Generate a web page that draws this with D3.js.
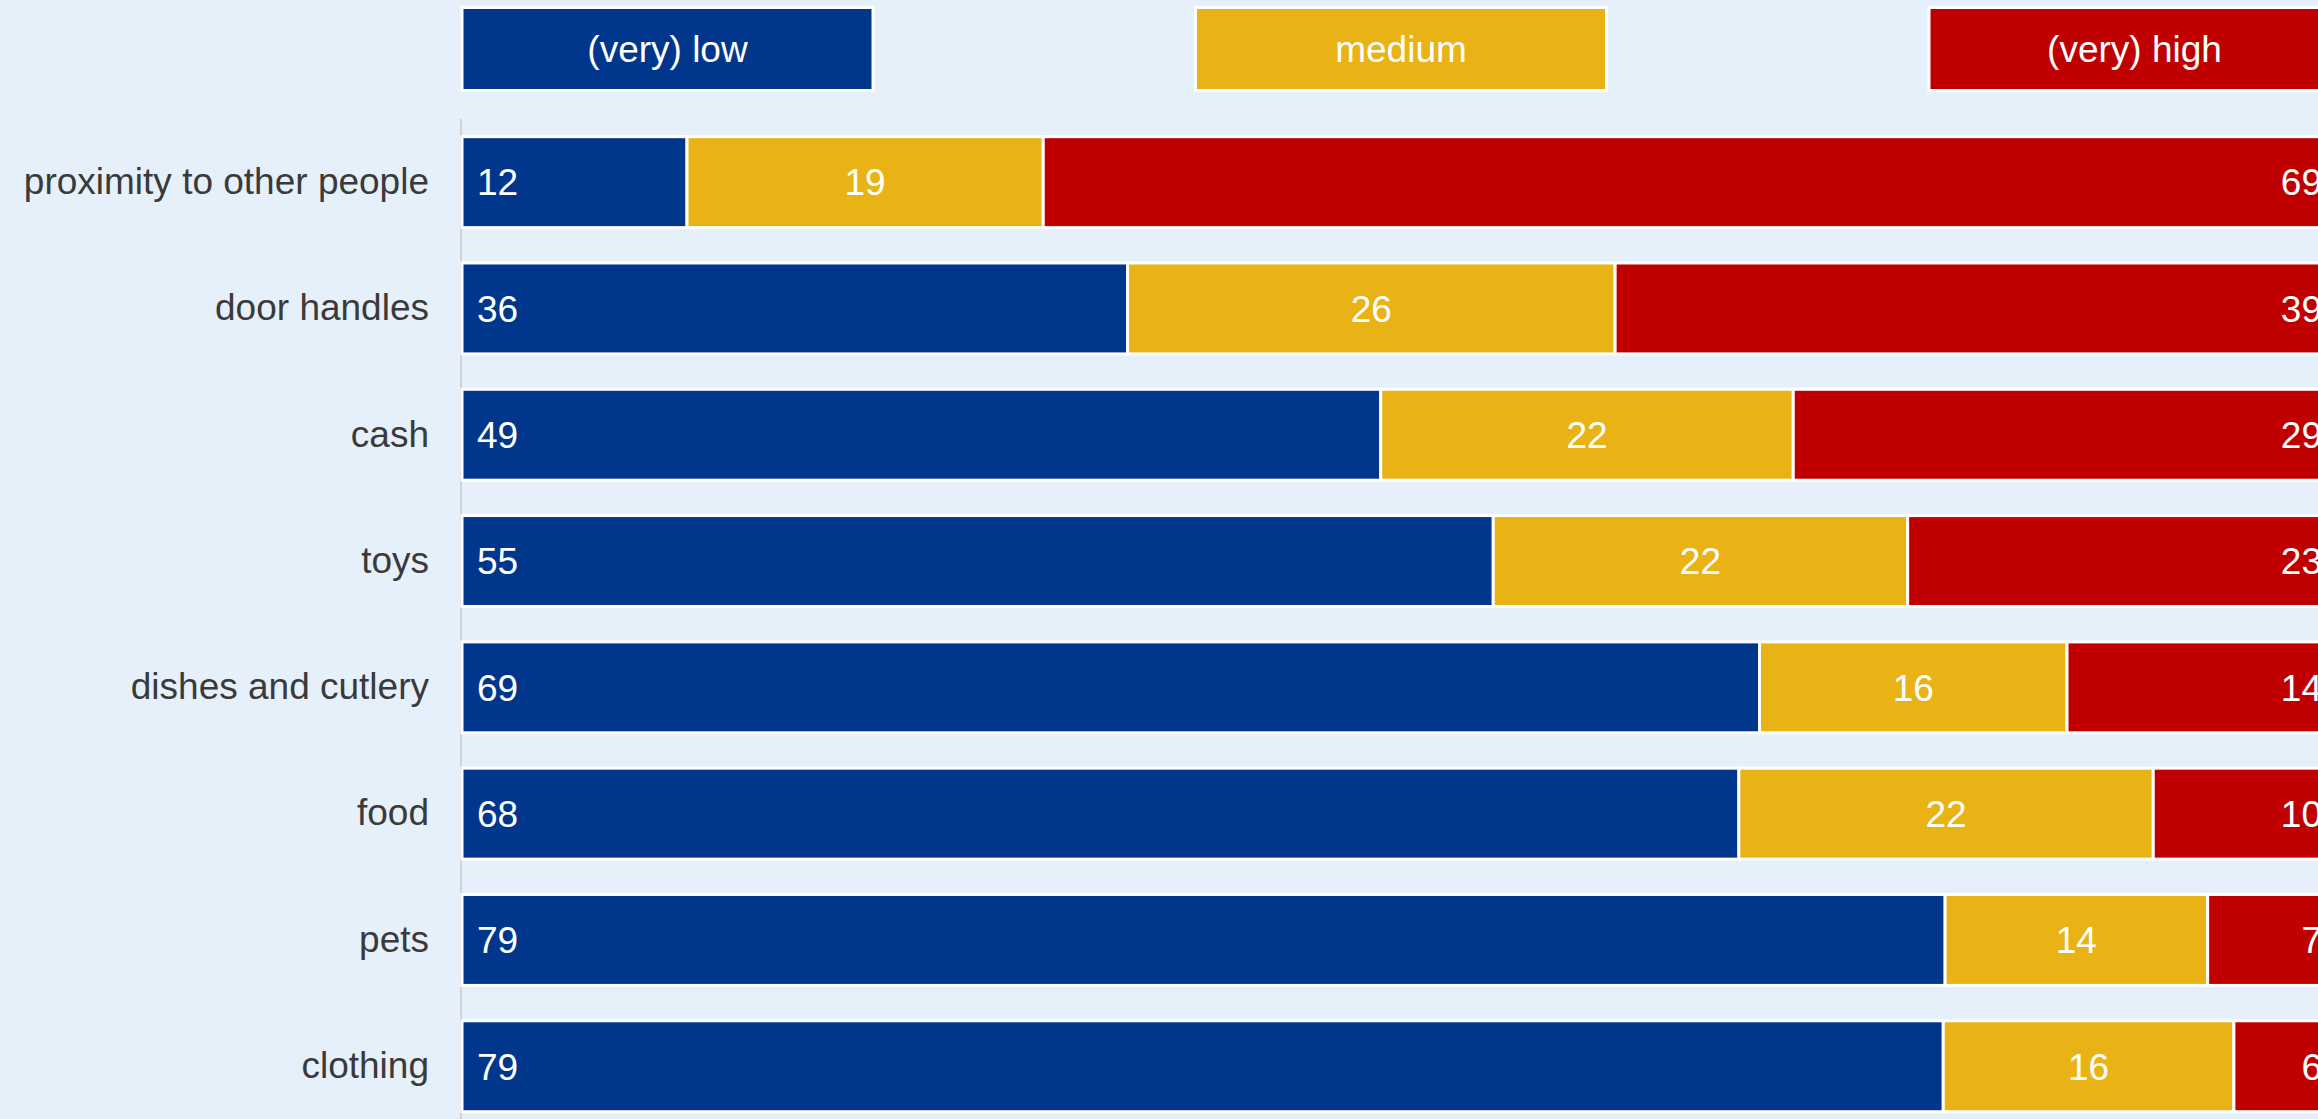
<!DOCTYPE html>
<html>
<head>
<meta charset="utf-8">
<script src="https://cdn.jsdelivr.net/npm/d3@7.9.0/dist/d3.min.js"></script>
<style>
  html, body { margin: 0; padding: 0; background: #e6f0fa; overflow: hidden; }
  svg { display: block; font-family: 'Liberation Sans', Arial, sans-serif; }
</style>
</head>
<body>
<svg id="chart"></svg>
<script>
// categories, top to bottom
const categories = [
  'proximity to other people',
  'door handles',
  'cash',
  'toys',
  'dishes and cutlery',
  'food',
  'pets',
  'clothing',
];

// shares in percent (labels show the rounded value)
const lowValues = [12.0, 35.5, 49.0, 55.0, 69.2, 68.1, 79.1, 79.0];
const mediumValues = [19.0, 26.0, 22.0, 22.1, 16.4, 22.1, 14.0, 15.5];
const highValues = [69.0, 38.5, 29.0, 22.9, 14.4, 9.8, 6.9, 5.5];

const seriesNames = ['(very) low', 'medium', '(very) high'];
const seriesColors = ['#00378c', '#eab315', '#c00000'];

const width = 2318;
const height = 1119;
const margin = { top: 119, left: 462 };

const svg = d3.select('#chart').attr('width', width).attr('height', height);

svg.append('rect')
  .attr('width', width)
  .attr('height', height)
  .attr('fill', '#e6f0fa');

const xScale = d3.scaleLinear().domain([0, 100]).range([margin.left, 2337]);

const yScale = d3.scaleBand()
  .domain(categories)
  .range([margin.top, margin.top + 126.3 * categories.length])
  .paddingInner(0.28)
  .paddingOuter(0.14);

// stack the three series
const rows = categories.map((c, i) => ({
  category: c,
  low: lowValues[i],
  medium: mediumValues[i],
  high: highValues[i],
}));
const stack = d3.stack().keys(['low', 'medium', 'high']);
const layers = stack(rows);

// thin axis line on the left
svg.append('line')
  .attr('x1', xScale(0) - 1)
  .attr('x2', xScale(0) - 1)
  .attr('y1', margin.top)
  .attr('y2', height)
  .attr('stroke', '#cfd3d8')
  .attr('stroke-width', 2);

// category labels
const yAxis = d3.axisLeft(yScale).tickSize(0).tickPadding(33);
svg.append('g')
  .attr('class', 'y axis')
  .attr('transform', `translate(${xScale(0)}, 0)`)
  .call(yAxis)
  .call((g) => g.select('.domain').remove())
  .selectAll('text')
  .attr('font-size', 37)
  .attr('font-family', "'Liberation Sans', Arial, sans-serif")
  .attr('fill', '#3a3a3a');

// bars
const layerGroups = svg.selectAll('g.layer')
  .data(layers)
  .join('g')
  .attr('class', 'layer')
  .attr('fill', (d, i) => seriesColors[i]);

layerGroups.selectAll('rect')
  .data((d) => d)
  .join('rect')
  .attr('x', (d) => xScale(d[0]))
  .attr('y', (d) => yScale(d.data.category))
  .attr('width', (d) => xScale(d[1]) - xScale(d[0]))
  .attr('height', yScale.bandwidth())
  .attr('stroke', '#ffffff')
  .attr('stroke-width', 3);

// value labels: left / centre / right aligned in the three segments
const labelPad = 15;
layers.forEach((layer, li) => {
  svg.append('g')
    .selectAll('text')
    .data(layer)
    .join('text')
    .attr('x', (d) => {
      if (li === 0) return xScale(d[0]) + labelPad;
      if (li === 1) return (xScale(d[0]) + xScale(d[1])) / 2;
      return xScale(d[1]) - labelPad;
    })
    .attr('y', (d) => yScale(d.data.category) + yScale.bandwidth() / 2)
    .attr('dy', '0.36em')
    .attr('text-anchor', li === 0 ? 'start' : li === 1 ? 'middle' : 'end')
    .attr('font-size', 37)
    .attr('fill', '#ffffff')
    .text((d) => Math.round(d[1] - d[0]));
});

// legend boxes across the top
const legendStep = 733.5;
const legendW = 411;
const legend = svg.append('g').attr('class', 'legend');
const items = legend.selectAll('g')
  .data(seriesNames)
  .join('g')
  .attr('transform', (d, i) => `translate(${xScale(0) + i * legendStep}, 7.5)`);

items.append('rect')
  .attr('width', legendW)
  .attr('height', 83)
  .attr('fill', (d, i) => seriesColors[i])
  .attr('stroke', '#ffffff')
  .attr('stroke-width', 3);

items.append('text')
  .attr('x', legendW / 2)
  .attr('y', 41.5)
  .attr('dy', '0.36em')
  .attr('text-anchor', 'middle')
  .attr('font-size', 37)
  .attr('fill', '#ffffff')
  .text((d) => d);
</script>
</body>
</html>
